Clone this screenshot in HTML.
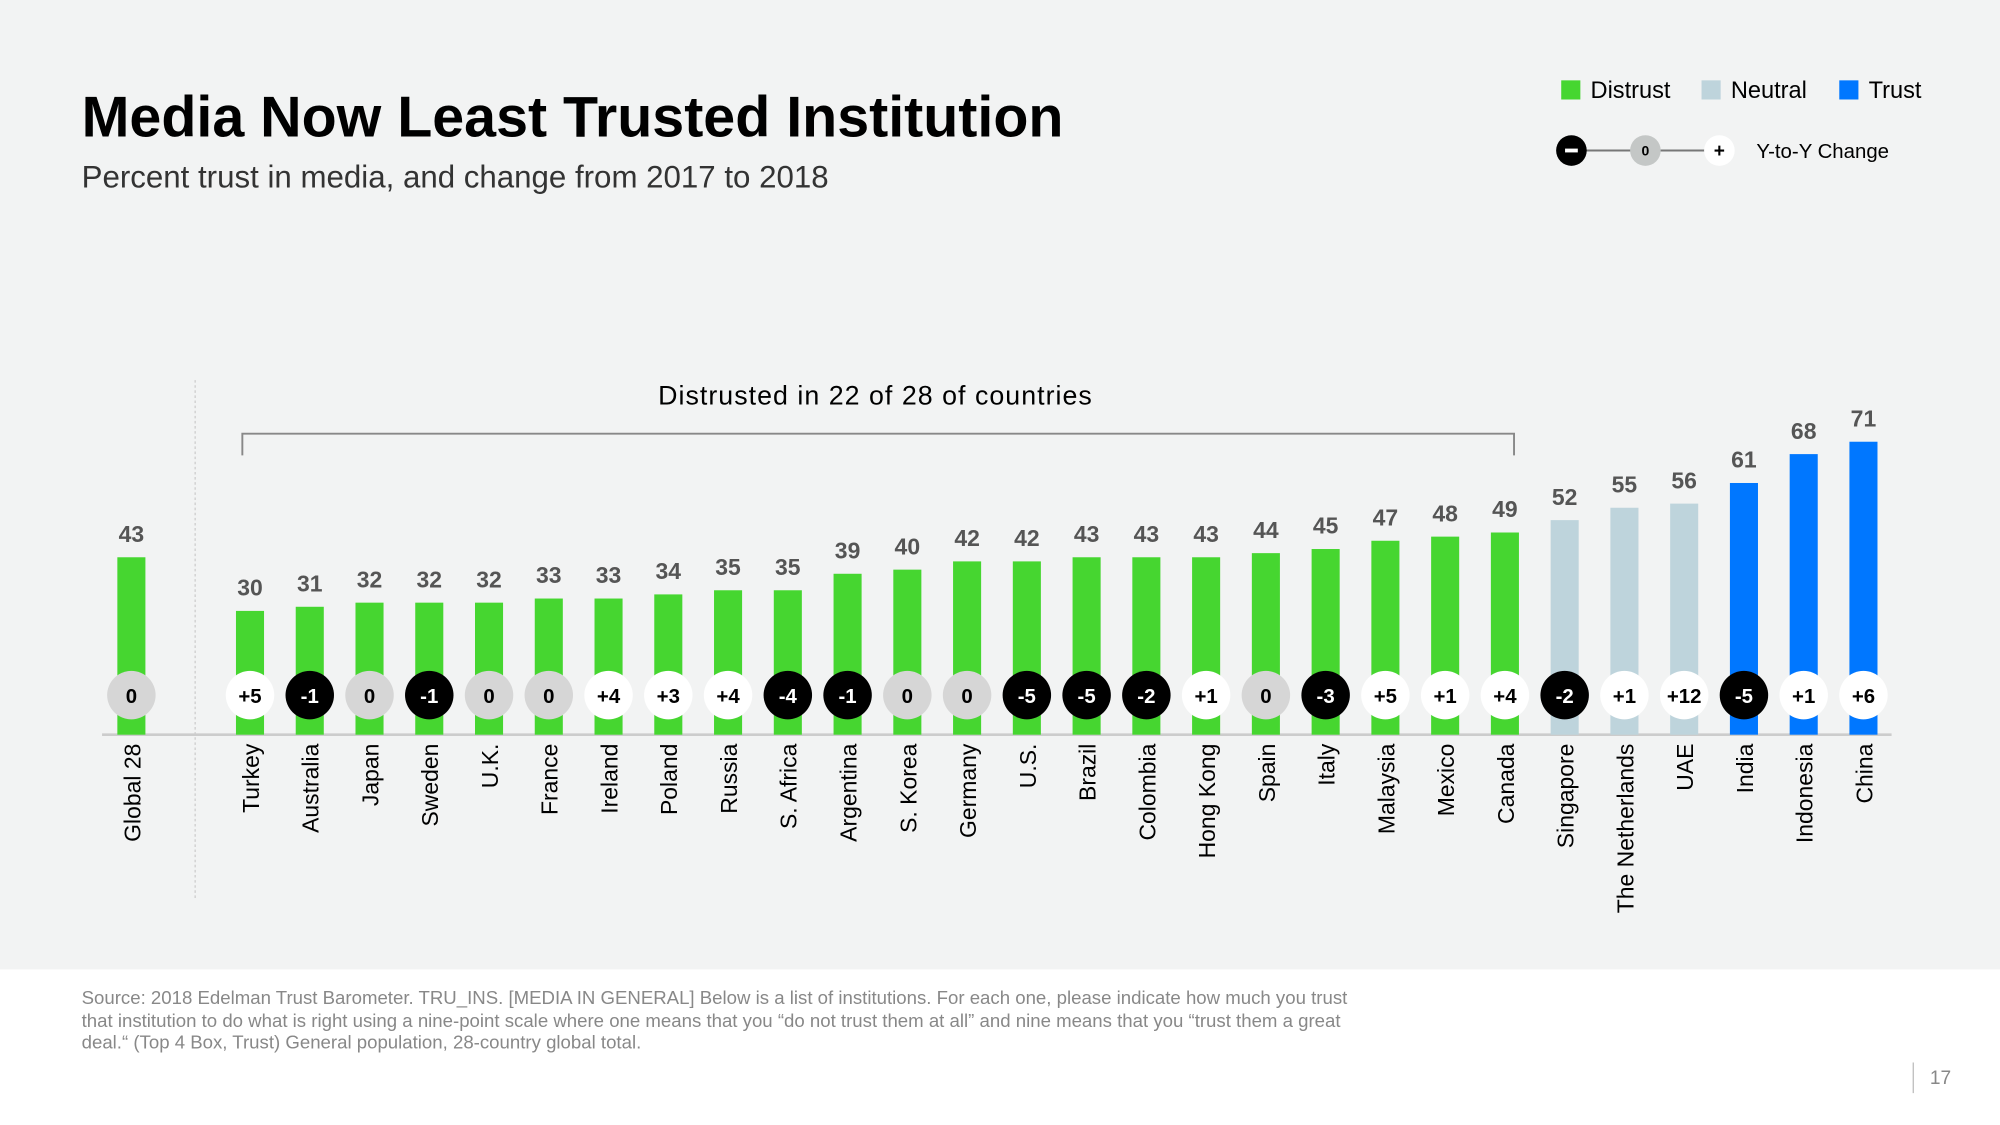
<!DOCTYPE html>
<html><head><meta charset="utf-8"><style>
html,body{margin:0;padding:0;background:#fff}
svg{display:block;font-family:"Liberation Sans",sans-serif}
</style></head><body>
<svg id="chart" width="2000" height="1125" viewBox="0 0 1568 882" xmlns="http://www.w3.org/2000/svg">
<rect x="0" y="0" width="1568" height="760" fill="#f2f3f3"/>
<text x="64" y="107" font-size="45" font-weight="bold" fill="#000">Media Now Least Trusted Institution</text>
<text x="64" y="147" font-size="24.5" fill="#333">Percent trust in media, and change from 2017 to 2018</text>
<g>
<rect x="1224" y="63" width="15" height="15" fill="#46d630"/>
<text x="1247" y="77" font-size="18.5">Distrust</text>
<rect x="1334" y="63" width="15" height="15" fill="#bed4dc"/>
<text x="1357" y="77" font-size="18.5">Neutral</text>
<rect x="1442" y="63" width="15" height="15" fill="#0077ff"/>
<text x="1465" y="77" font-size="18.5">Trust</text>
<line x1="1232" y1="118" x2="1348" y2="118" stroke="#777" stroke-width="1.5"/>
<circle cx="1232" cy="118" r="12" fill="#000"/>
<rect x="1227" y="116.5" width="10" height="3" fill="#fff"/>
<circle cx="1290" cy="118" r="12" fill="#c4c7c6"/>
<text x="1290" y="122" font-size="11" font-weight="bold" text-anchor="middle">0</text>
<circle cx="1348" cy="118" r="12" fill="#fff"/>
<text x="1348" y="123" font-size="15" font-weight="bold" text-anchor="middle">+</text>
<text x="1377" y="124" font-size="16">Y-to-Y Change</text>
</g>
<line x1="153" y1="298" x2="153" y2="705" stroke="#ccc" stroke-dasharray="2,2"/>
<text x="686" y="317" font-size="21" text-anchor="middle" textLength="340">Distrusted in 22 of 28 of countries</text>
<path d="M190,357 V340 H1187 V357" fill="none" stroke="#888" stroke-width="1.5"/>
<line x1="80" y1="576" x2="1483" y2="576" stroke="#ccc" stroke-width="2"/>
<g id="bars"></g>
<text x="64" y="787" font-size="14.6" fill="#888"><tspan x="64" y="787">Source: 2018 Edelman Trust Barometer. TRU_INS. [MEDIA IN GENERAL] Below is a list of institutions. For each one, please indicate how much you trust</tspan><tspan x="64" y="805">that institution to do what is right using a nine-point scale where one means that you “do not trust them at all” and nine means that you “trust them a great</tspan><tspan x="64" y="822">deal.“ (Top 4 Box, Trust) General population, 28-country global total.</tspan></text>
<line x1="1500" y1="833" x2="1500" y2="857" stroke="#bbb"/>
<text x="1513" y="850" font-size="15" fill="#888">17</text>
</svg>
<script>
const countries = ["Global 28","Turkey","Australia","Japan","Sweden","U.K.","France","Ireland","Poland","Russia","S. Africa","Argentina","S. Korea","Germany","U.S.","Brazil","Colombia","Hong Kong","Spain","Italy","Malaysia","Mexico","Canada","Singapore","The Netherlands","UAE","India","Indonesia","China"];
const trustValues = [43,30,31,32,32,32,33,33,34,35,35,39,40,42,42,43,43,43,44,45,47,48,49,52,55,56,61,68,71];
const changes = [0,5,-1,0,-1,0,0,4,3,4,-4,-1,0,0,-5,-5,-2,1,0,-3,5,1,4,-2,1,12,-5,1,6];
const categories = ["distrust","distrust","distrust","distrust","distrust","distrust","distrust","distrust","distrust","distrust","distrust","distrust","distrust","distrust","distrust","distrust","distrust","distrust","distrust","distrust","distrust","distrust","distrust","neutral","neutral","neutral","trust","trust","trust"];

const NS = "http://www.w3.org/2000/svg";
const baseY = 576, scaleY = 3.235;
function xPos(i){ return i === 0 ? 103 : 196 + (i-1)*46.85; }
function yPos(v){ return baseY - v*scaleY; }
const colors = {distrust:"#46d630", neutral:"#bed4dc", trust:"#0077ff"};
const g = document.getElementById("bars");
function mk(tag, attrs){ const e = document.createElementNS(NS, tag); for (const k in attrs) e.setAttribute(k, attrs[k]); g.appendChild(e); return e; }
countries.forEach((c, i) => {
  const x = xPos(i), v = trustValues[i];
  const bar = mk("rect", {x: x-11, y: yPos(v), width: 22, height: baseY - yPos(v), fill: colors[categories[i]]});
  
  
  const vl = mk("text", {x: x, y: yPos(v)-12, "font-size": 18, "text-anchor": "middle", fill: "#555", "font-weight": "bold"});
  vl.textContent = v;
  
  
  const ch = changes[i];
  const fill = ch < 0 ? "#000" : (ch === 0 ? "#d6d6d6" : "#fff");
  const circ = mk("circle", {cx: x, cy: 545, r: 19, fill: fill});
  
  
  const ct = mk("text", {x: x, y: 551, "font-size": 16, "font-weight": "bold", "text-anchor": "middle", fill: ch < 0 ? "#fff" : "#000"});
  ct.textContent = ch > 0 ? "+" + ch : String(ch);
  
  
  const cl = mk("text", {x: 0, y: 0, "font-size": 18, "text-anchor": "end", transform: "translate(" + (x+7) + ",583) rotate(-90)"});
  cl.textContent = c;
  
  
});
</script>
</body></html>
